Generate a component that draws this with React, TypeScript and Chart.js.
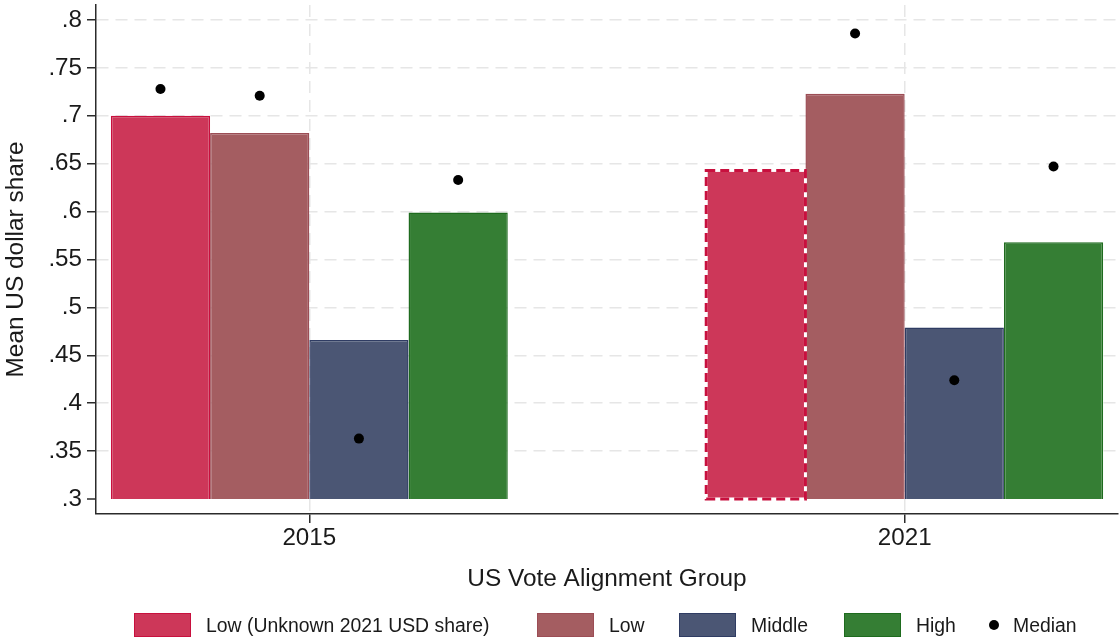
import React, { useEffect, useRef } from "react";
import { Chart, registerables } from "chart.js";

Chart.register(...registerables);

// ---------- data ----------
const years = ["2015", "2021"];
const seriesNames = ["Low (Unknown 2021 USD share)", "Low", "Middle", "High"];
const lowUnknownMean = [0.7, 0.643];
const lowMean = [0.682, 0.723];
const middleMean = [0.466, 0.479];
const highMean = [0.599, 0.568];
const lowUnknownMedian: (number | null)[] = [0.728, null];
const lowMedian = [0.721, 0.786];
const middleMedian = [0.363, 0.424];
const highMedian = [0.633, 0.647];
const yTickValues = [0.3, 0.35, 0.4, 0.45, 0.5, 0.55, 0.6, 0.65, 0.7, 0.75, 0.8];
const yTickLabels = [".3", ".35", ".4", ".45", ".5", ".55", ".6", ".65", ".7", ".75", ".8"];
const medianLabel = "Median";
const xTitle = "US Vote Alignment Group";
const yTitle = "Mean US dollar share";
const barBase = 0.3;
// which bars of the first series are estimated (dashed outline)
const lowUnknownDashed = [false, true];

// ---------- style ----------
const FONT = "'Liberation Sans', Arial, Helvetica, sans-serif";
const TEXT = "#1a1a1a";
const AXIS = "#2b2b2b";
const GRID = "#e6e6e6";
const fills = ["#cd3759", "#a45d61", "#4b5674", "#357e34"];
const borders = ["#c8103e", "#9c4d55", "#2f3c63", "#1e6b1e"];
const CAT_PCT = 2 / 3;

const meanSeries = [lowUnknownMean, lowMean, middleMean, highMean];
const medianSeries = [lowUnknownMedian, lowMedian, middleMedian, highMedian];

const dashedBarPlugin = {
  id: "dashedBar",
  afterDatasetsDraw(chart: any) {
    const ctx = chart.ctx;
    chart.data.datasets.forEach((ds: any, di: number) => {
      const flags: boolean[] | undefined = ds.dashedFlags;
      if (!flags) return;
      const meta = chart.getDatasetMeta(di);
      meta.data.forEach((bar: any, i: number) => {
        if (!flags[i]) return;
        const { x, y, base, width } = bar.getProps(["x", "y", "base", "width"], true);
        const left = x - width / 2;
        const top = Math.min(y, base);
        const h = Math.abs(base - y);
        ctx.save();
        ctx.lineWidth = 3;
        ctx.strokeStyle = "#ffffff";
        ctx.strokeRect(left, top, width, h);
        ctx.setLineDash([9, 5]);
        ctx.strokeStyle = borders[di];
        ctx.strokeRect(left, top, width, h);
        ctx.restore();
      });
    });
  },
};

export default function App() {
  const ref = useRef<HTMLCanvasElement>(null);

  useEffect(() => {
    const n = meanSeries.length;
    const barDatasets = meanSeries.map((vals, si) => ({
      type: "bar" as const,
      label: seriesNames[si],
      data: vals.map((v, gi) => ({ x: gi, y: v })),
      base: barBase,
      backgroundColor: fills[si],
      borderColor: borders[si],
      borderWidth: si === 0 ? lowUnknownDashed.map((d) => (d ? 0 : 1.5)) : 1.5,
      dashedFlags: si === 0 ? lowUnknownDashed : undefined,
      categoryPercentage: CAT_PCT,
      barPercentage: 1,
      order: 2,
    }));
    const medianPoints: { x: number; y: number }[] = [];
    medianSeries.forEach((ser, si) =>
      ser.forEach((v, gi) => {
        if (v != null) medianPoints.push({ x: gi + ((si - (n - 1) / 2) * CAT_PCT) / n, y: v });
      })
    );
    const medianDataset = {
      type: "scatter" as const,
      label: medianLabel,
      data: medianPoints,
      pointRadius: 5,
      pointHoverRadius: 5,
      pointBackgroundColor: "#000",
      pointBorderWidth: 0,
      borderColor: "#000",
      showLine: false,
      order: 1,
    };

    const tickFont = { family: FONT, size: 24.2 };
    const titleFont = { family: FONT, size: 24.4 };

    const chart = new Chart(ref.current!, {
      type: "bar",
      data: { datasets: [...barDatasets, medianDataset] as any },
      options: {
        responsive: false,
        animation: false,
        events: [],
        layout: { autoPadding: false, padding: { left: 0, right: 1, top: 5, bottom: 40 } },
        plugins: { legend: { display: false }, tooltip: { enabled: false } },
        scales: {
          x: {
            type: "linear",
            min: -0.3583,
            max: 1.3583,
            offset: false,
            afterBuildTicks: (s: any) => {
              s.ticks = years.map((_, i) => ({ value: i }));
            },
            afterFit: (s: any) => {
              s.height = 86;
              s.paddingLeft = 0;
              s.paddingRight = 0;
            },
            grid: {
              offset: false,
              color: GRID,
              lineWidth: 1.5,
              tickColor: AXIS,
              tickWidth: 1.5,
              tickLength: 9,
              tickBorderDash: [],
            },
            border: { color: AXIS, width: 1.5, dash: [12, 7] },
            ticks: {
              callback: (v: any) => years[v] ?? "",
              font: tickFont,
              color: TEXT,
              padding: 1,
              maxRotation: 0,
              autoSkip: false,
            },
            title: {
              display: true,
              text: xTitle,
              font: titleFont,
              color: TEXT,
              padding: { top: 0, bottom: 6 },
            },
          },
          y: {
            type: "linear",
            min: 0.2843,
            max: 0.8157,
            afterBuildTicks: (s: any) => {
              s.ticks = yTickValues.map((v) => ({ value: v }));
            },
            afterFit: (s: any) => {
              s.width = 96;
              s.paddingTop = 0;
              s.paddingBottom = 0;
            },
            grid: {
              color: GRID,
              lineWidth: (c: any) => (c.index === 0 ? 0 : 1.5),
              tickColor: AXIS,
              tickWidth: 1.5,
              tickLength: 9,
              tickBorderDash: [],
            },
            border: { color: AXIS, width: 1.5, dash: [12, 7] },
            ticks: {
              callback: (_v: any, i: number) => yTickLabels[i],
              font: tickFont,
              color: TEXT,
              padding: 5,
              autoSkip: false,
            },
            title: {
              display: true,
              text: yTitle,
              font: titleFont,
              color: TEXT,
              padding: { top: 2, bottom: 0 },
            },
          },
        },
      } as any,
      plugins: [dashedBarPlugin],
    });
    return () => chart.destroy();
  }, []);

  const boxLefts = [134, 537, 679, 844];
  return (
    <div
      style={{
        position: "absolute",
        left: 0,
        top: 0,
        width: 1119,
        height: 640,
        background: "#fff",
        fontFamily: FONT,
        color: TEXT,
      }}
    >
      <canvas ref={ref} width={1119} height={640} style={{ display: "block" }} />
      {seriesNames.map((name, i) => (
        <div
          key={name}
          style={{
            position: "absolute",
            left: boxLefts[i],
            top: 613,
            height: 24,
            display: "flex",
            alignItems: "center",
            whiteSpace: "nowrap",
          }}
        >
          <span
            style={{
              display: "inline-block",
              width: 57,
              height: 24,
              boxSizing: "border-box",
              background: fills[i],
              border: `1.5px solid ${borders[i]}`,
              marginRight: 15,
            }}
          />
          <span style={{ fontSize: 19.4, lineHeight: "24px" }}>{name}</span>
        </div>
      ))}
      <div
        style={{
          position: "absolute",
          left: 989,
          top: 613,
          height: 24,
          display: "flex",
          alignItems: "center",
          whiteSpace: "nowrap",
        }}
      >
        <span
          style={{
            display: "inline-block",
            width: 10,
            height: 10,
            borderRadius: "50%",
            background: "#000",
            marginRight: 14,
          }}
        />
        <span style={{ fontSize: 19.4, lineHeight: "24px" }}>{medianLabel}</span>
      </div>
    </div>
  );
}
